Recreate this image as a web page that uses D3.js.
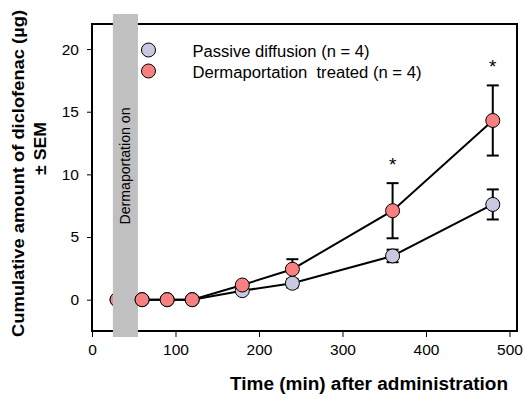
<!DOCTYPE html>
<html><head><meta charset="utf-8">
<script src="https://cdn.jsdelivr.net/npm/d3@7"></script>
<style>body{margin:0;background:#fff}svg{display:block}text{font-family:Arial,"Liberation Sans",sans-serif;white-space:pre}</style>
</head><body>
<script>
const times = [30, 60, 90, 120, 180, 240, 360, 480];
const passiveMean = [0, 0, 0, 0, 0.72, 1.31, 3.49, 7.6];
const passiveSem  = [0, 0, 0, 0, 0.2, 0.35, 0.5, 1.2];
const dermMean    = [0, 0, 0, 0, 1.17, 2.43, 7.1, 14.3];
const dermSem     = [0, 0, 0, 0, 0.2, 0.8, 2.2, 2.8];
const seriesNames = ["Passive diffusion (n = 4)", "Dermaportation  treated (n = 4)"];
const seriesColors = ["#c8c8e0", "#f88080"];
const xTicks = [0, 100, 200, 300, 400, 500];
const yTicks = [0, 5, 10, 15, 20];
const bandRange = [25, 55];
const bandLabel = "Dermaportation on";
const significantTimes = [360, 480];
const xTitle = "Time (min) after administration";
const yTitle = ["Cumulative amount of diclofenac (\u00b5g)", "\u00b1 SEM"];

const W = 523, H = 399;
const L = 92, R = 517, T = 24, B = 331;
const svg = d3.select("body").append("svg").attr("width", W).attr("height", H);
const x = d3.scaleLinear().domain([0, 509]).range([L, R]);
const y = d3.scaleLinear().domain([-2.5, 22]).range([B, T]);

function fit(sel, w) { sel.attr("textLength", w).attr("lengthAdjust", "spacingAndGlyphs"); return sel; }

// frame
svg.append("rect").attr("x", L).attr("y", T).attr("width", R - L).attr("height", B - T)
  .attr("fill", "none").attr("stroke", "#000").attr("stroke-width", 2);

// axes
const xAxis = svg.append("g").attr("transform", `translate(0,${B})`)
  .call(d3.axisBottom(x).tickValues(xTicks).tickSize(6).tickPadding(7).tickFormat(d3.format("d")));
const yAxis = svg.append("g").attr("transform", `translate(${L},0)`)
  .call(d3.axisLeft(y).tickValues(yTicks).tickSize(5).tickPadding(8).tickFormat(d3.format("d")));
[xAxis, yAxis].forEach(a => {
  a.select(".domain").remove();
  a.selectAll("line").attr("stroke", "#000").attr("stroke-width", 1);
  a.selectAll("text").attr("font-size", 15.5).attr("fill", "#000").style("font-family", "Arial, 'Liberation Sans', sans-serif");
});

const series = [
  {mean: passiveMean, sem: passiveSem, color: seriesColors[0]},
  {mean: dermMean, sem: dermSem, color: seriesColors[1]}
];

const line = d3.line().x(d => x(d.t)).y(d => y(d.v));
const plotG = svg.append("g");
series.forEach(s => {
  const pts = times.map((t, i) => ({t, v: s.mean[i], e: s.sem[i]}));
  s.pts = pts;
  plotG.append("path").datum(pts).attr("d", line).attr("fill", "none").attr("stroke", "#000").attr("stroke-width", 2);
  const eb = plotG.append("g").selectAll("g").data(pts.filter(p => p.e > 0)).join("g");
  eb.append("line").attr("x1", p => x(p.t)).attr("x2", p => x(p.t)).attr("y1", p => y(p.v - p.e)).attr("y2", p => y(p.v + p.e)).attr("stroke", "#000").attr("stroke-width", 2);
  [-1, 1].forEach(sg => eb.append("line").attr("x1", p => x(p.t) - 6).attr("x2", p => x(p.t) + 6)
    .attr("y1", p => y(p.v + sg * p.e)).attr("y2", p => y(p.v + sg * p.e)).attr("stroke", "#000").attr("stroke-width", 2));
});
// points under band
series.forEach(s => {
  plotG.append("g").selectAll("circle").data(s.pts.filter(p => p.t < bandRange[1])).join("circle")
    .attr("cx", p => x(p.t)).attr("cy", p => y(p.v)).attr("r", 7)
    .attr("fill", s.color).attr("stroke", "#000").attr("stroke-width", 1);
});

// band
svg.append("rect").attr("x", x(bandRange[0])).attr("width", x(bandRange[1]) - x(bandRange[0]))
  .attr("y", T - 10).attr("height", (B + 6) - (T - 10)).attr("fill", "#c0c0c0");
fit(svg.append("text").attr("transform", `translate(${(x(bandRange[0]) + x(bandRange[1])) / 2 + 5},${166}) rotate(-90)`)
  .attr("text-anchor", "middle").attr("font-size", 14).attr("fill", "#000").text(bandLabel), 117);

// points over band
series.forEach(s => {
  svg.append("g").selectAll("circle").data(s.pts.filter(p => p.t >= bandRange[1])).join("circle")
    .attr("cx", p => x(p.t)).attr("cy", p => y(p.v)).attr("r", 7)
    .attr("fill", s.color).attr("stroke", "#000").attr("stroke-width", 1);
});

// significance asterisks
svg.append("g").selectAll("text").data(significantTimes).join("text")
  .attr("x", t => x(t)).attr("y", t => { const i = times.indexOf(t); return y(dermMean[i] + dermSem[i]) - 12; })
  .attr("text-anchor", "middle").attr("font-size", 19).attr("fill", "#000").text("*");

// legend
const legWidths = [177, 229];
const leg = svg.append("g");
seriesNames.forEach((n, i) => {
  leg.append("circle").attr("cx", 148.5).attr("cy", 50 + i * 21).attr("r", 7)
    .attr("fill", seriesColors[i]).attr("stroke", "#000").attr("stroke-width", 1);
  fit(leg.append("text").attr("x", 192.5).attr("y", 50 + i * 21 + 6.5)
    .attr("font-size", 16).attr("fill", "#000").text(n), legWidths[i]);
});

// titles
fit(svg.append("text").attr("x", 369).attr("y", 390).attr("text-anchor", "middle")
  .attr("font-size", 18).attr("font-weight", "bold").attr("fill", "#000").text(xTitle), 278);
const yTitlePos = [[24, 173.5, 327], [46, 148.5, 53]];
yTitle.forEach((t, i) => {
  fit(svg.append("text").attr("transform", `translate(${yTitlePos[i][0]},${yTitlePos[i][1]}) rotate(-90)`)
    .attr("text-anchor", "middle").attr("font-size", 17).attr("font-weight", "bold").attr("fill", "#000").text(t), yTitlePos[i][2]);
});
</script>
</body></html>
